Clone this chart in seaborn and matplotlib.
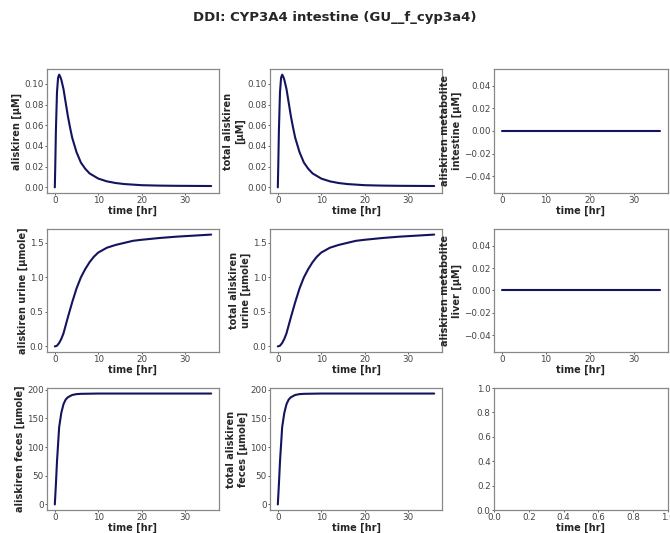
import numpy as np
import pandas as pd
import matplotlib
matplotlib.use("Agg")
import matplotlib.pyplot as plt
import seaborn as sns

sns.set_style("ticks")
plt.rcParams['font.family'] = ['DejaVu Sans']

title = "DDI: CYP3A4 intestine (GU__f_cyp3a4)"

t_plasma = [0, 0.1, 0.25, 0.5, 0.75, 1.0, 1.25, 1.5, 2, 2.5, 3, 3.5, 4, 5, 6, 7, 8,
            10, 12, 14, 16, 20, 24, 28, 32, 36]
aliskiren_plasma = [0, 0.02, 0.055, 0.092, 0.106, 0.109, 0.107, 0.104, 0.095, 0.082,
                    0.069, 0.058, 0.048, 0.034, 0.024, 0.018, 0.0135, 0.0085, 0.0058,
                    0.0042, 0.0032, 0.0021, 0.0017, 0.0015, 0.0014, 0.0013]

t_urine = [0, 0.5, 1, 1.5, 2, 3, 4, 5, 6, 7, 8, 9, 10, 12, 14, 16, 18, 20, 24, 28, 32, 36]
aliskiren_urine = [0, 0.01, 0.05, 0.11, 0.19, 0.42, 0.64, 0.84, 1.0, 1.12, 1.22, 1.30,
                   1.36, 1.43, 1.47, 1.50, 1.53, 1.545, 1.57, 1.59, 1.605, 1.62]

t_feces = [0, 0.25, 0.5, 0.75, 1, 1.5, 2, 2.5, 3, 4, 5, 6, 10, 20, 36]
aliskiren_feces = [0, 35, 75, 105, 135, 160, 175, 183, 187, 191, 192.5, 193, 193.5, 193.5, 193.5]

t_metab = [0, 36]
metab_zero = [0, 0]

ylabels = [
    "aliskiren [µM]", "total aliskiren\n[µM]", "aliskiren metabolite\nintestine [µM]",
    "aliskiren urine [µmole]", "total aliskiren\nurine [µmole]", "aliskiren metabolite\nliver [µM]",
    "aliskiren feces [µmole]", "total aliskiren\nfeces [µmole]", None,
]
series = [
    (t_plasma, aliskiren_plasma), (t_plasma, aliskiren_plasma), (t_metab, metab_zero),
    (t_urine, aliskiren_urine), (t_urine, aliskiren_urine), (t_metab, metab_zero),
    (t_feces, aliskiren_feces), (t_feces, aliskiren_feces), None,
]

W, H = 670, 533
fig = plt.figure(figsize=(W / 100, H / 100), dpi=100)
rows = [(69, 193), (229, 352), (388, 510)]
cols = [(47, 219), (270, 442), (494, 668)]

line_color = "#14145e"
for i in range(9):
    r, c = divmod(i, 3)
    top, bot = rows[r]
    left, right = cols[c]
    ax = fig.add_axes([left / W, 1 - bot / H, (right - left) / W, (bot - top) / H])
    s = series[i]
    if s is not None:
        df = pd.DataFrame({"time": s[0], "value": s[1]})
        sns.lineplot(data=df, x="time", y="value", ax=ax, color=line_color, linewidth=1.5)
    ax.set_xlabel("time [hr]", fontsize=7, fontweight="bold", labelpad=0)
    ax.set_ylabel(ylabels[i] if ylabels[i] else "", fontsize=7, fontweight="bold", labelpad=1.5)
    ax.tick_params(labelsize=6.3, colors="#444444", length=1.6, width=0.6, pad=0.8)
    for sp in ax.spines.values():
        sp.set_visible(True)
        sp.set_color("#888888")
        sp.set_linewidth(0.9)
    if s is not None:
        ax.set_xticks([0, 10, 20, 30])

fig.text(0.5, 1 - 18 / H, title, ha="center", va="center", fontsize=9.5, fontweight="bold")
fig.savefig("out.png", dpi=100)
